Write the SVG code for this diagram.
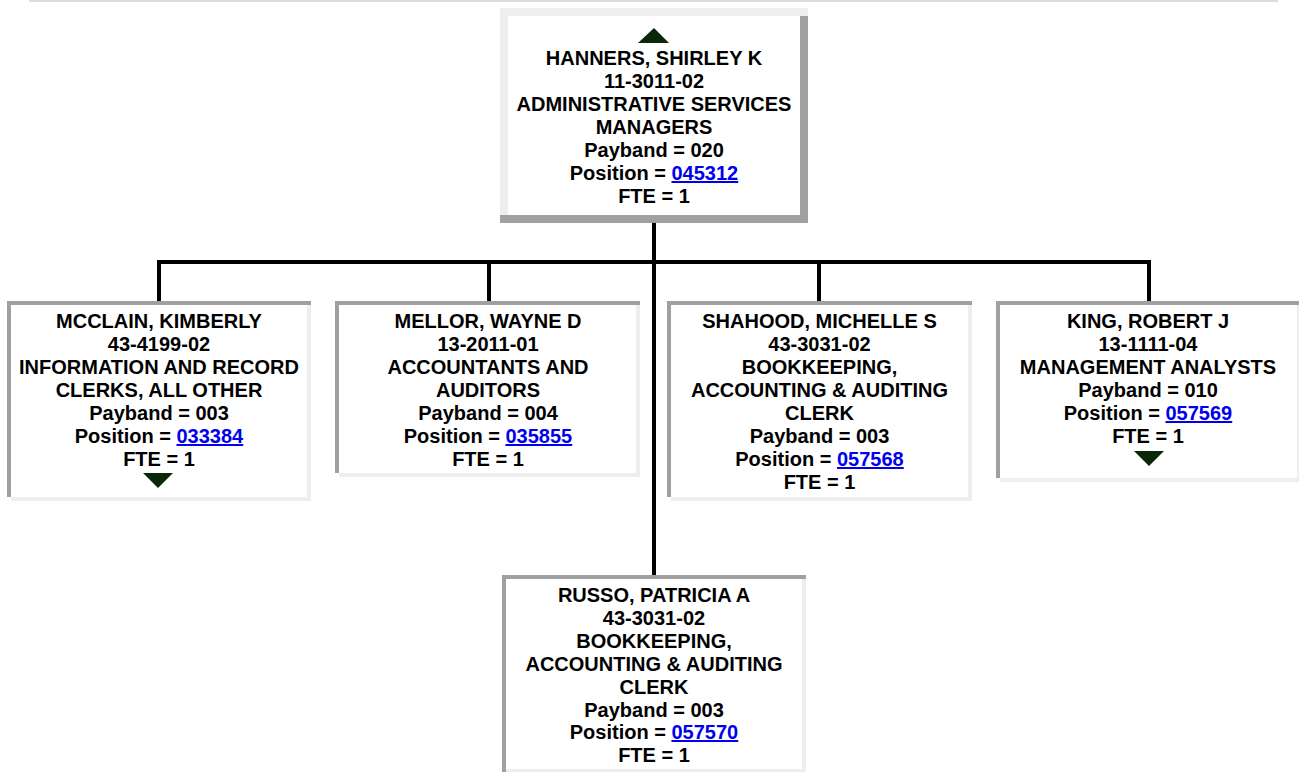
<svg xmlns="http://www.w3.org/2000/svg" width="1299" height="772" viewBox="0 0 1299 772">
<style>
  text { font-family: "Liberation Sans", Arial, sans-serif; font-weight: bold; font-size: 20px; fill: #000; text-anchor: middle; }
  .lnk { fill: #0000ee; text-decoration: underline; }
  .dk { fill: #a0a0a0; }
  .lt { fill: #eeeeee; }
  .tri { fill: #082808; }
  .conn { stroke: #000; stroke-width: 4; fill: none; }
</style>
<rect width="1299" height="772" fill="#fff"/>
<rect x="29" y="0" width="1249" height="2" fill="#dddddd"/>

<g id="connectors">
  <line class="conn" x1="654" y1="223" x2="654" y2="575"/>
  <line class="conn" x1="157" y1="262" x2="1151" y2="262"/>
  <line class="conn" x1="159" y1="262" x2="159" y2="301"/>
  <line class="conn" x1="489" y1="262" x2="489" y2="301"/>
  <line class="conn" x1="819" y1="262" x2="819" y2="301"/>
  <line class="conn" x1="1149" y1="262" x2="1149" y2="301"/>
</g>

<g id="node-hanners">
  <rect x="500" y="8" width="308" height="215" fill="#fff"/>
  <rect class="lt" x="500" y="8" width="308" height="8"/>
  <rect class="lt" x="500" y="8" width="8" height="207"/>
  <rect class="dk" x="800" y="16" width="8" height="207"/>
  <rect class="dk" x="500" y="215" width="308" height="8"/>
  <polygon class="tri" points="638,43 654,28 669,43"/>
  <text x="654" y="65">HANNERS, SHIRLEY K</text>
  <text x="654" y="88">11-3011-02</text>
  <text x="654" y="111">ADMINISTRATIVE SERVICES</text>
  <text x="654" y="134">MANAGERS</text>
  <text x="654" y="157">Payband = 020</text>
  <text x="654" y="180">Position = <tspan class="lnk">045312</tspan></text>
  <text x="654" y="203">FTE = 1</text>
</g>

<g id="node-mcclain">
  <rect x="7" y="301" width="304" height="200" fill="#fff"/>
  <rect class="dk" x="7" y="301" width="304" height="4"/>
  <rect class="dk" x="7" y="301" width="4" height="196"/>
  <rect class="lt" x="307" y="305" width="4" height="196"/>
  <rect class="lt" x="11" y="497" width="300" height="4"/>
  <text x="159" y="328">MCCLAIN, KIMBERLY</text>
  <text x="159" y="351">43-4199-02</text>
  <text x="159" y="374">INFORMATION AND RECORD</text>
  <text x="159" y="397">CLERKS, ALL OTHER</text>
  <text x="159" y="420">Payband = 003</text>
  <text x="159" y="443">Position = <tspan class="lnk">033384</tspan></text>
  <text x="159" y="466">FTE = 1</text>
  <polygon class="tri" points="143,473 173,473 158,488"/>
</g>

<g id="node-mellor">
  <rect x="335" y="301" width="305" height="176" fill="#fff"/>
  <rect class="dk" x="335" y="301" width="305" height="4"/>
  <rect class="dk" x="335" y="301" width="4" height="172"/>
  <rect class="lt" x="636" y="305" width="4" height="172"/>
  <rect class="lt" x="339" y="473" width="301" height="4"/>
  <text x="488" y="328">MELLOR, WAYNE D</text>
  <text x="488" y="351">13-2011-01</text>
  <text x="488" y="374">ACCOUNTANTS AND</text>
  <text x="488" y="397">AUDITORS</text>
  <text x="488" y="420">Payband = 004</text>
  <text x="488" y="443">Position = <tspan class="lnk">035855</tspan></text>
  <text x="488" y="466">FTE = 1</text>
</g>

<g id="node-shahood">
  <rect x="667" y="301" width="305" height="200" fill="#fff"/>
  <rect class="dk" x="667" y="301" width="305" height="4"/>
  <rect class="dk" x="667" y="301" width="4" height="196"/>
  <rect class="lt" x="968" y="305" width="4" height="196"/>
  <rect class="lt" x="671" y="497" width="301" height="4"/>
  <text x="819.5" y="328">SHAHOOD, MICHELLE S</text>
  <text x="819.5" y="351">43-3031-02</text>
  <text x="819.5" y="374">BOOKKEEPING,</text>
  <text x="819.5" y="397">ACCOUNTING &amp; AUDITING</text>
  <text x="819.5" y="420">CLERK</text>
  <text x="819.5" y="443">Payband = 003</text>
  <text x="819.5" y="466">Position = <tspan class="lnk">057568</tspan></text>
  <text x="819.5" y="489">FTE = 1</text>
</g>

<g id="node-king">
  <rect x="996" y="301" width="305" height="181" fill="#fff"/>
  <rect class="dk" x="996" y="301" width="305" height="4"/>
  <rect class="dk" x="996" y="301" width="4" height="177"/>
  <rect class="lt" x="1297" y="305" width="4" height="177"/>
  <rect class="lt" x="1000" y="478" width="301" height="4"/>
  <text x="1148" y="328">KING, ROBERT J</text>
  <text x="1148" y="351">13-1111-04</text>
  <text x="1148" y="374">MANAGEMENT ANALYSTS</text>
  <text x="1148" y="397">Payband = 010</text>
  <text x="1148" y="420">Position = <tspan class="lnk">057569</tspan></text>
  <text x="1148" y="443">FTE = 1</text>
  <polygon class="tri" points="1134,451 1164,451 1149,466"/>
</g>

<g id="node-russo">
  <rect x="502" y="575" width="304" height="197" fill="#fff"/>
  <rect class="dk" x="502" y="575" width="304" height="4"/>
  <rect class="dk" x="502" y="575" width="4" height="197"/>
  <rect class="lt" x="802" y="579" width="4" height="193"/>
  <rect class="lt" x="506" y="769" width="300" height="3"/>
  <text x="654" y="602">RUSSO, PATRICIA A</text>
  <text x="654" y="625">43-3031-02</text>
  <text x="654" y="648">BOOKKEEPING,</text>
  <text x="654" y="671">ACCOUNTING &amp; AUDITING</text>
  <text x="654" y="694">CLERK</text>
  <text x="654" y="717">Payband = 003</text>
  <text x="654" y="739">Position = <tspan class="lnk">057570</tspan></text>
  <text x="654" y="762">FTE = 1</text>
</g>
</svg>
